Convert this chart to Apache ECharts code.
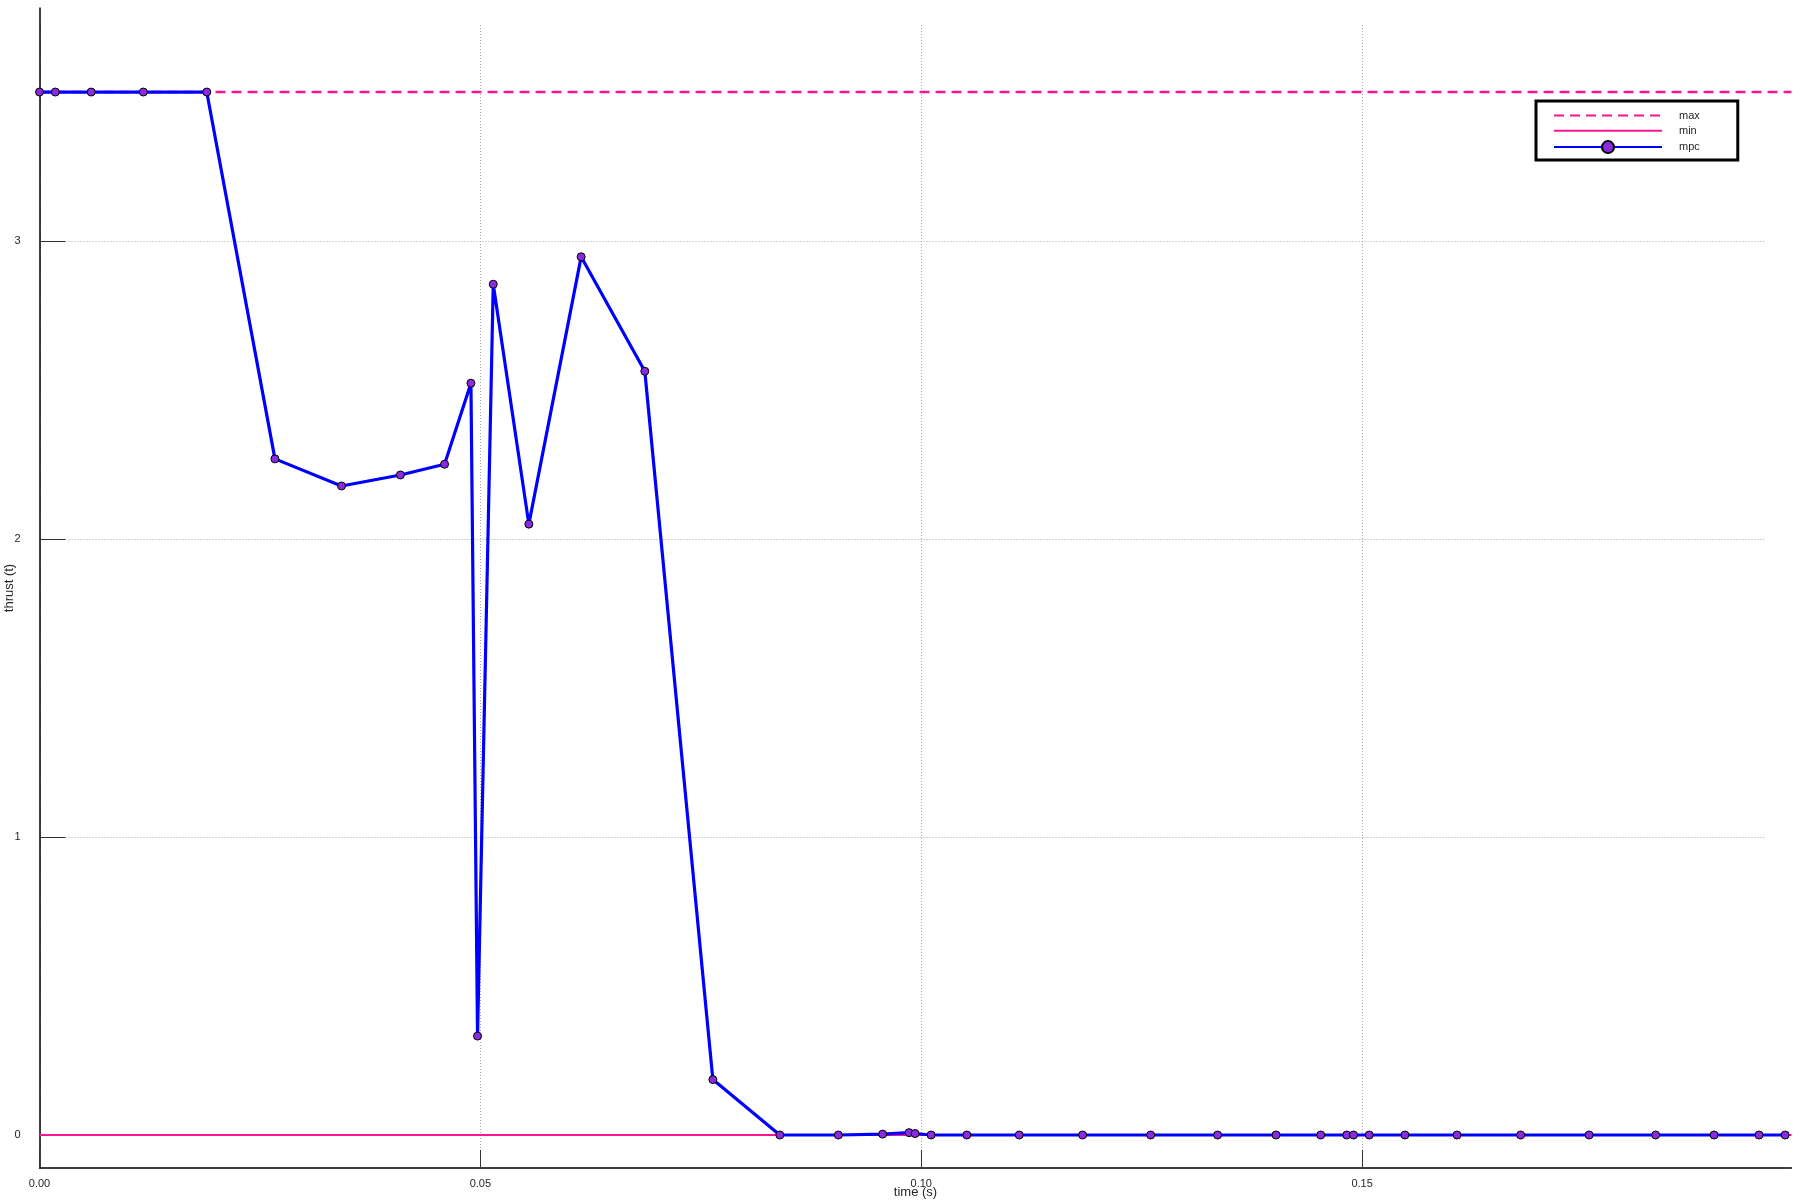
<!DOCTYPE html>
<html>
<head>
<meta charset="utf-8">
<title>thrust</title>
<script src="https://cdn.jsdelivr.net/npm/echarts@6/dist/echarts.min.js"></script>
<style>
    html, body { margin: 0; padding: 0; background: #fff; }
    #thrust_chart { width: 1800px; height: 1200px; }
</style>
</head>
<body>
<div id="thrust_chart"></div>
<script>
// Data
// ------------------------------

var time = [0, 0.0018, 0.00586, 0.01178, 0.01897, 0.0267, 0.03425, 0.04093, 0.04594, 0.04893,
    0.04968, 0.05146, 0.0555, 0.06143, 0.06865, 0.07637, 0.08396, 0.0906, 0.09562, 0.09862,
    0.0993, 0.10112, 0.10517, 0.11112, 0.1183, 0.12602, 0.13361, 0.14024, 0.14531, 0.14826,
    0.14903, 0.15081, 0.15486, 0.16077, 0.16798, 0.17575, 0.18329, 0.18992, 0.19502, 0.19798];

var mpc = [3.5, 3.5, 3.5, 3.5, 3.5, 2.269, 2.178, 2.215, 2.251, 2.523,
    0.332, 2.855, 2.050, 2.947, 2.563, 0.186, 0, 0, 0.003, 0.008,
    0.005, 0, 0, 0, 0, 0, 0, 0, 0, 0,
    0, 0, 0, 0, 0, 0, 0, 0, 0, 0];

var limitTime = [0, 0.1987];
var maxThrust = [3.5, 3.5];
var minThrust = [0, 0];

var xTicks = [0, 0.05, 0.10, 0.15];
var yTicks = [0, 1, 2, 3];

var xRange = [0, 0.1987];
var yRange = [-0.1107, 3.782];


var EchartsThrust = function() {

    var _thrustChart = function() {
        if (typeof echarts == 'undefined') {
            console.warn('Warning - echarts.min.js is not loaded.');
            return;
        }

        var chart_element = document.getElementById('thrust_chart');
        var chart = echarts.init(chart_element, null, {renderer: 'canvas'});

        var pairs = function(xs, ys) {
            return xs.map(function(x, i) { return [x, ys[i]]; });
        };

        // grid lines stop short of the axes, by the tick length
        var gridStyle = {stroke: '#a8a8a8', lineWidth: 1, lineDash: [1, 2]};
        var hGrid = function(params, api) {
            var cs = params.coordSys;
            var y = Math.round(api.coord([xRange[0], api.value(1)])[1]) + 0.5;
            return {type: 'line', silent: true,
                shape: {x1: cs.x + 26, y1: y, x2: cs.x + cs.width - 26, y2: y},
                style: gridStyle};
        };
        var vGrid = function(params, api) {
            var cs = params.coordSys;
            var x = Math.round(api.coord([api.value(0), yRange[0]])[0]) + 0.5;
            return {type: 'line', silent: true,
                shape: {x1: x, y1: cs.y + 17, x2: x, y2: cs.y + cs.height - 18},
                style: gridStyle};
        };

        var font = '"Liberation Sans", Arial, sans-serif';
        var noDot = {color: 'rgba(0,0,0,0)', borderWidth: 0, opacity: 0};

        chart.setOption({
            animation: false,
            textStyle: {fontFamily: font, color: '#262626'},

            grid: {left: 39.5, right: 8.5, top: 8, bottom: 32, containLabel: false,
                outerBoundsMode: 'none'},

            legend: {
                data: [
                    {name: 'max', itemStyle: noDot},
                    {name: 'min', itemStyle: noDot},
                    {name: 'mpc'}
                ],
                orient: 'vertical',
                left: 1536,
                top: 101,
                itemWidth: 108,
                itemHeight: 15,
                itemGap: 3.3,
                padding: [8.5, 38, 6, 17],
                borderColor: '#000',
                borderWidth: 3,
                backgroundColor: '#fff',
                textStyle: {fontSize: 11, color: '#262626', padding: [0, 0, 0, 12]}
            },

            xAxis: {
                type: 'value',
                min: xRange[0],
                max: xRange[1],
                name: 'time (s)',
                nameLocation: 'middle',
                nameGap: 18,
                nameMoveOverlap: false,
                nameTextStyle: {fontSize: 13, color: '#262626'},
                axisLine: {show: true, onZero: false, lineStyle: {color: '#000', width: 1.5}},
                axisTick: {show: true, inside: true, length: 18, customValues: xTicks,
                    lineStyle: {color: '#333', width: 1}},
                axisLabel: {customValues: xTicks, margin: 10, fontSize: 11, color: '#262626',
                    formatter: function(v) { return v.toFixed(2); }},
                splitLine: {show: false}
            },

            yAxis: {
                type: 'value',
                min: yRange[0],
                max: yRange[1],
                name: 'thrust (t)',
                nameLocation: 'middle',
                nameGap: 24,
                nameMoveOverlap: false,
                nameTextStyle: {fontSize: 13, color: '#262626'},
                axisLine: {show: true, onZero: false, lineStyle: {color: '#000', width: 1.5}},
                axisTick: {show: true, inside: true, length: 26, customValues: yTicks,
                    lineStyle: {color: '#333', width: 1}},
                axisLabel: {customValues: yTicks, margin: 19, fontSize: 11, color: '#262626'},
                splitLine: {show: false}
            },

            series: [{
                name: 'hgrid',
                type: 'custom',
                renderItem: hGrid,
                data: yTicks.map(function(v) { return [xRange[0], v]; }),
                z: 0
            }, {
                name: 'vgrid',
                type: 'custom',
                renderItem: vGrid,
                data: xTicks.map(function(v) { return [v, yRange[0]]; }),
                z: 0
            }, {
                name: 'max',
                type: 'line',
                data: pairs(limitTime, maxThrust),
                showSymbol: false,
                symbol: 'none',
                lineStyle: {color: '#ff1493', width: 2.5, type: [10, 6]},
                itemStyle: {color: '#ff1493'},
                z: 2
            }, {
                name: 'min',
                type: 'line',
                data: pairs(limitTime, minThrust),
                showSymbol: false,
                symbol: 'none',
                lineStyle: {color: '#ff1493', width: 2},
                itemStyle: {color: '#ff1493'},
                z: 2
            }, {
                name: 'mpc',
                type: 'line',
                data: pairs(time, mpc),
                symbol: 'circle',
                symbolSize: 8,
                showAllSymbol: true,
                lineStyle: {color: '#0000ff', width: 3.2},
                itemStyle: {color: '#8a2be2', borderColor: '#000', borderWidth: 1},
                z: 3
            }]
        });

        window.addEventListener('resize', function() {
            chart.resize();
        });
    };

    return {
        init: function() {
            _thrustChart();
        }
    }
}();

document.addEventListener('DOMContentLoaded', function() {
    EchartsThrust.init();
});
</script>
</body>
</html>
